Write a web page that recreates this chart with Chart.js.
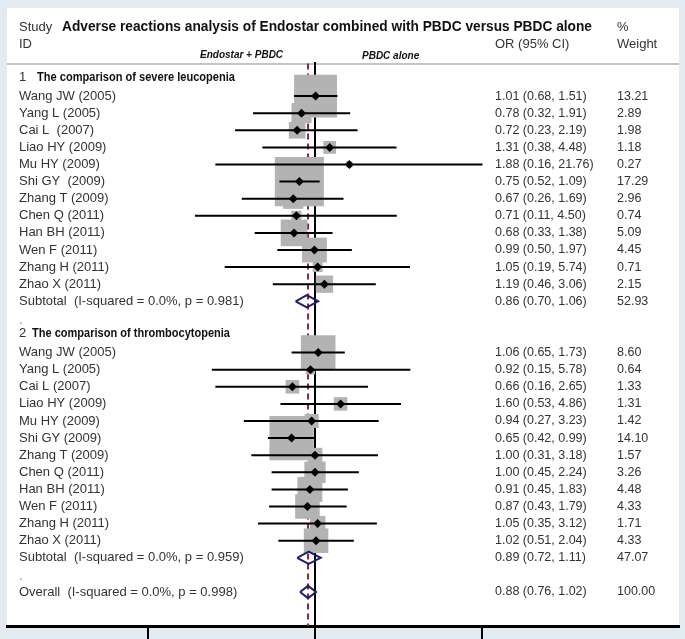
<!DOCTYPE html>
<html>
<head>
<meta charset="utf-8">
<script src="https://cdn.jsdelivr.net/npm/chart.js@4.4.1/dist/chart.umd.min.js"></script>
<style>
    body { margin: 0; background: #e2ebf0; }
    #wrap { width: 685px; height: 639px; }
</style>
</head>
<body>
<div id="wrap"><canvas id="forest"></canvas></div>
<script>
// ---- data ----
const leuStudies = ['Wang JW (2005)', 'Yang L (2005)', 'Cai L  (2007)', 'Liao HY (2009)', 'Mu HY (2009)', 'Shi GY  (2009)',
    'Zhang T (2009)', 'Chen Q (2011)', 'Han BH (2011)', 'Wen F (2011)', 'Zhang H (2011)', 'Zhao X (2011)'];
const leuOR = [1.01, 0.78, 0.72, 1.31, 1.88, 0.75, 0.67, 0.71, 0.68, 0.99, 1.05, 1.19];
const leuLo = [0.68, 0.32, 0.23, 0.38, 0.16, 0.52, 0.26, 0.11, 0.33, 0.50, 0.19, 0.46];
const leuHi = [1.51, 1.91, 2.19, 4.48, 21.76, 1.09, 1.69, 4.50, 1.38, 1.97, 5.74, 3.06];
const leuWeight = [13.21, 2.89, 1.98, 1.18, 0.27, 17.29, 2.96, 0.74, 5.09, 4.45, 0.71, 2.15];

const thrStudies = ['Wang JW (2005)', 'Yang L (2005)', 'Cai L (2007)', 'Liao HY (2009)', 'Mu HY (2009)', 'Shi GY (2009)',
    'Zhang T (2009)', 'Chen Q (2011)', 'Han BH (2011)', 'Wen F (2011)', 'Zhang H (2011)', 'Zhao X (2011)'];
const thrOR = [1.06, 0.92, 0.66, 1.60, 0.94, 0.65, 1.00, 1.00, 0.91, 0.87, 1.05, 1.02];
const thrLo = [0.65, 0.15, 0.16, 0.53, 0.27, 0.42, 0.31, 0.45, 0.45, 0.43, 0.35, 0.51];
const thrHi = [1.73, 5.78, 2.65, 4.86, 3.23, 0.99, 3.18, 2.24, 1.83, 1.79, 3.12, 2.04];
const thrWeight = [8.60, 0.64, 1.33, 1.31, 1.42, 14.10, 1.57, 3.26, 4.48, 4.33, 1.71, 4.33];

const groupTitles = ['The comparison of severe leucopenia', 'The comparison of thrombocytopenia'];
const subLabels = ['Subtotal  (I-squared = 0.0%, p = 0.981)', 'Subtotal  (I-squared = 0.0%, p = 0.959)'];
const subOR = [0.86, 0.89];
const subLo = [0.70, 0.72];
const subHi = [1.06, 1.11];
const subWeight = [52.93, 47.07];

const overallLabel = 'Overall  (I-squared = 0.0%, p = 0.998)';
const overallOR = 0.88;
const overallLo = 0.76;
const overallHi = 1.02;
const overallWeight = 100.00;

const nullEffect = 1;
const tickValues = [0.046, 1, 21.76];

// ---- layout (pixels) ----
const PANEL_LEFT = 7, PANEL_RIGHT = 679, PANEL_TOP = 8, AXIS_Y = 626;
const X_ONE = 315, PX_PER_DECADE = 125.2;
const ROW0_Y = 79, ROW_STEP = 17.1;
const BOX_SCALE = 11.8;      // box side = BOX_SCALE * sqrt(weight)
const DIAMOND_HALF = 0.36;   // rows
const TEXT_X = 19, OR_X = 495, WT_X = 617;

const xMin = Math.pow(10, -(X_ONE - PANEL_LEFT) / PX_PER_DECADE);
const xMax = Math.pow(10, (PANEL_RIGHT - X_ONE) / PX_PER_DECADE);
const yMin = -(ROW0_Y - PANEL_TOP) / ROW_STEP;
const yMax = (AXIS_Y - ROW0_Y) / ROW_STEP;

// ---- build rows ----
const groups = [
    { names: leuStudies, or: leuOR, lo: leuLo, hi: leuHi, wt: leuWeight },
    { names: thrStudies, or: thrOR, lo: thrLo, hi: thrHi, wt: thrWeight }
];
const studyRows = [];
const pooledRows = [];
const headerRows = [];
const dotRows = [];
let row = 0;
groups.forEach((g, gi) => {
    headerRows.push({ row: row, num: String(gi + 1), title: groupTitles[gi] });
    row++;
    g.names.forEach((name, i) => {
        studyRows.push({ row: row, label: name, or: g.or[i], lo: g.lo[i], hi: g.hi[i], wt: g.wt[i] });
        row++;
    });
    pooledRows.push({ row: row, label: subLabels[gi], or: subOR[gi], lo: subLo[gi], hi: subHi[gi], wt: subWeight[gi] });
    row++;
    dotRows.push(row);
    row++;
});
pooledRows.push({ row: row, label: overallLabel, or: overallOR, lo: overallLo, hi: overallHi, wt: overallWeight });

function ciText(r) {
    return r.or.toFixed(2) + ' (' + r.lo.toFixed(2) + ', ' + r.hi.toFixed(2) + ')';
}

// CI segments separated by gaps
const ciData = [];
studyRows.forEach(r => {
    ciData.push({ x: r.lo, y: r.row }, { x: r.hi, y: r.row }, { x: null, y: null });
});

const diamondData = [];
pooledRows.forEach(r => {
    diamondData.push(
        { x: r.lo, y: r.row }, { x: r.or, y: r.row - DIAMOND_HALF },
        { x: r.hi, y: r.row }, { x: r.or, y: r.row + DIAMOND_HALF },
        { x: r.lo, y: r.row }, { x: null, y: null });
});

const lineTop = -0.9;

const forestPlugin = {
    id: 'forestDecor',
    beforeDraw(chart) {
        const ctx = chart.ctx;
        const y = chart.scales.y;
        ctx.save();
        ctx.fillStyle = '#e2ebf0';
        ctx.fillRect(0, 0, chart.width, chart.height);
        ctx.fillStyle = '#ffffff';
        ctx.fillRect(chart.chartArea.left, chart.chartArea.top,
            chart.chartArea.right - chart.chartArea.left, chart.chartArea.bottom - chart.chartArea.top);
        // rule under the header
        ctx.strokeStyle = '#c4c4c4';
        ctx.lineWidth = 2;
        ctx.beginPath();
        const ly = Math.round(y.getPixelForValue(-0.88));
        ctx.moveTo(chart.chartArea.left, ly);
        ctx.lineTo(chart.chartArea.right, ly);
        ctx.stroke();
        ctx.restore();
    },
    afterDraw(chart) {
        const ctx = chart.ctx;
        const y = chart.scales.y;
        const body = '13px "Liberation Sans", Arial, sans-serif';
        const nums = '12.5px "Liberation Sans", Arial, sans-serif';
        ctx.save();
        ctx.textBaseline = 'middle';
        ctx.textAlign = 'left';

        // header
        ctx.fillStyle = '#333333';
        ctx.font = body;
        ctx.fillText('Study', TEXT_X, y.getPixelForValue(-3.04));
        ctx.fillText('ID', TEXT_X, y.getPixelForValue(-2.05));
        ctx.fillText('OR (95% CI)', OR_X, y.getPixelForValue(-2.05));
        ctx.fillText('%', WT_X, y.getPixelForValue(-3.04));
        ctx.fillText('Weight', WT_X, y.getPixelForValue(-2.05));
        ctx.fillStyle = '#111111';
        ctx.font = 'bold 15px "Liberation Sans", Arial, sans-serif';
        ctx.fillText('Adverse reactions analysis of Endostar combined with PBDC versus PBDC alone',
            62, y.getPixelForValue(-3.04), 530);
        ctx.font = 'italic bold 10px "Liberation Sans", Arial, sans-serif';
        ctx.fillText('Endostar + PBDC', 200, y.getPixelForValue(-1.4), 93);
        ctx.fillText('PBDC alone', 362, y.getPixelForValue(-1.32), 65);

        // group headers
        const titleX = [37, 32];
        headerRows.forEach((h, i) => {
            const py = y.getPixelForValue(h.row - 0.1);
            ctx.fillStyle = '#333333';
            ctx.font = body;
            ctx.fillText(h.num, TEXT_X, py);
            ctx.fillStyle = '#111111';
            ctx.font = 'bold 12px "Liberation Sans", Arial, sans-serif';
            ctx.fillText(h.title, titleX[i], py, 198);
        });

        // study and pooled rows
        studyRows.concat(pooledRows).forEach(r => {
            const py = y.getPixelForValue(r.row);
            ctx.fillStyle = '#333333';
            ctx.font = body;
            ctx.fillText(r.label, TEXT_X, py);
            ctx.font = nums;
            ctx.fillText(ciText(r), OR_X, py);
            ctx.fillText(r.wt.toFixed(2), WT_X, py);
        });

        // spacer dots
        ctx.fillStyle = '#888888';
        ctx.font = body;
        dotRows.forEach(d => ctx.fillText('.', TEXT_X, y.getPixelForValue(d) + 2));
        ctx.restore();
    }
};

const ctx = document.getElementById('forest').getContext('2d');
new Chart(ctx, {
    type: 'scatter',
    data: {
        datasets: [
            {
                // point estimates
                data: studyRows.map(r => ({ x: r.or, y: r.row })),
                pointStyle: 'rectRot',
                pointRadius: 4.5,
                backgroundColor: '#000000',
                borderWidth: 0,
                order: 0
            },
            {
                data: diamondData,
                showLine: true,
                spanGaps: false,
                pointRadius: 0,
                borderColor: '#1b1f6e',
                borderWidth: 2,
                borderJoinStyle: 'miter',
                order: 1
            },
            {
                data: ciData,
                showLine: true,
                spanGaps: false,
                pointRadius: 0,
                borderColor: '#000000',
                borderWidth: 2,
                order: 2
            },
            {
                // weight boxes
                data: studyRows.map(r => ({ x: r.or, y: r.row })),
                pointStyle: 'rect',
                pointRadius: studyRows.map(r => BOX_SCALE * Math.sqrt(r.wt) / (2 * Math.SQRT1_2)),
                backgroundColor: '#b3b3b3',
                borderWidth: 0,
                order: 3
            },
            {
                // overall estimate
                data: [{ x: overallOR, y: lineTop }, { x: overallOR, y: yMax }],
                showLine: true,
                pointRadius: 0,
                borderColor: '#8e2333',
                borderWidth: 2,
                borderDash: [6, 4],
                order: 4
            },
            {
                // line of no effect
                data: [{ x: nullEffect, y: lineTop - 0.1 }, { x: nullEffect, y: yMax }],
                showLine: true,
                pointRadius: 0,
                borderColor: '#000000',
                borderWidth: 2,
                order: 5
            }
        ]
    },
    options: {
        responsive: true,
        maintainAspectRatio: false,
        animation: false,
        events: [],
        layout: {
            autoPadding: false,
            padding: { left: PANEL_LEFT, right: 685 - PANEL_RIGHT, top: PANEL_TOP, bottom: 0 }
        },
        plugins: { legend: { display: false }, tooltip: { enabled: false } },
        scales: {
            x: {
                type: 'logarithmic',
                min: xMin,
                max: xMax,
                afterBuildTicks: function(scale) {
                    scale.ticks = tickValues.map(v => ({ value: v }));
                },
                ticks: { display: false },
                grid: {
                    drawOnChartArea: false,
                    drawTicks: true,
                    tickLength: 13,
                    color: '#000000',
                    lineWidth: 2
                },
                border: { display: true, color: '#000000', width: 3 }
            },
            y: {
                type: 'linear',
                reverse: true,
                min: yMin,
                max: yMax,
                display: false
            }
        }
    },
    plugins: [forestPlugin]
});
</script>
</body>
</html>
